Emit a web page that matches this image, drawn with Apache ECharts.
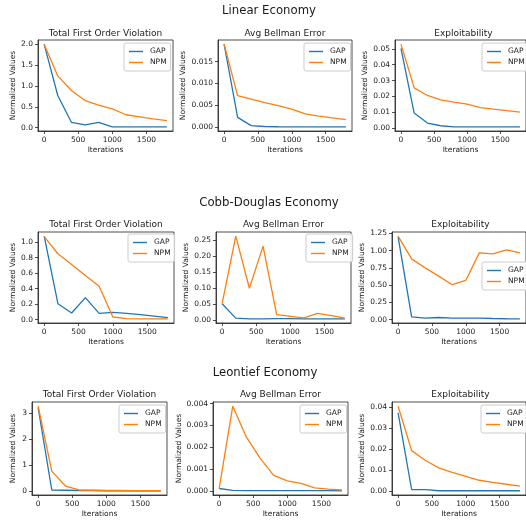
<!DOCTYPE html>
<html>
<head>
<meta charset="utf-8">
<script src="https://cdn.jsdelivr.net/npm/echarts@6/dist/echarts.min.js"></script>
<style>
  html, body { margin: 0; padding: 0; background: #fff; }
  #main { width: 526px; height: 520px; }
</style>
</head>
<body>
<div id="main"></div>
<script>
// iterations on the x axis
var iterations = [0, 200, 400, 600, 800, 1000, 1200, 1400, 1600, 1800];
var xTickLabels = ['0', '500', '1000', '1500'];

// Linear economy
var linTfovGap = [2.0, 0.77, 0.13, 0.065, 0.13, 0.02, 0.02, 0.02, 0.02, 0.02];
var linTfovNpm = [2.0, 1.24, 0.89, 0.65, 0.54, 0.45, 0.31, 0.26, 0.21, 0.17];
var linBellGap = [0.0190, 0.0022, 0.0003, 0.0001, 0.00005, 0.00003, 0.00002, 0.00002, 0.00002, 0.00002];
var linBellNpm = [0.0190, 0.0072, 0.0064, 0.0056, 0.0049, 0.0041, 0.0030, 0.0025, 0.0021, 0.0017];
var linExplGap = [0.0504, 0.0095, 0.0032, 0.0015, 0.0008, 0.0008, 0.0008, 0.0008, 0.0008, 0.0008];
var linExplNpm = [0.0530, 0.0254, 0.0206, 0.0178, 0.0164, 0.0151, 0.0130, 0.0120, 0.0111, 0.0101];

// Cobb-Douglas economy
var cdTfovGap = [1.077, 0.206, 0.085, 0.284, 0.08, 0.095, 0.08, 0.065, 0.045, 0.025];
var cdTfovNpm = [1.07, 0.85, 0.71, 0.57, 0.43, 0.034, 0.012, 0.01, 0.01, 0.01];
var cdBellGap = [0.052, 0.0074, 0.005, 0.005, 0.006, 0.006, 0.005, 0.005, 0.005, 0.005];
var cdBellNpm = [0.052, 0.262, 0.100, 0.231, 0.018, 0.013, 0.008, 0.022, 0.015, 0.007];
var cdExplGap = [1.20, 0.038, 0.02, 0.03, 0.02, 0.02, 0.02, 0.015, 0.012, 0.01];
var cdExplNpm = [1.21, 0.88, 0.75, 0.63, 0.505, 0.567, 0.967, 0.952, 1.01, 0.967];

// Leontief economy
var leTfovGap = [3.2, 0.05, 0.04, 0.03, 0.03, 0.02, 0.02, 0.02, 0.02, 0.02];
var leTfovNpm = [3.25, 0.77, 0.2, 0.05, 0.04, 0.03, 0.03, 0.02, 0.02, 0.02];
var leBellGap = [0.00011, 0.00002, 0.00001, 0.00001, 0.00001, 0.00001, 0.00001, 0.00001, 0.00001, 0.000005];
var leBellNpm = [0.0001, 0.00388, 0.00246, 0.0015, 0.00071, 0.00046, 0.00034, 0.00014, 0.00008, 0.00004];
var leExplGap = [0.0371, 0.0007, 0.0006, 0.0001, 0.0001, 0.0001, 0.0001, 0.0001, 0.0001, 0.0001];
var leExplNpm = [0.0403, 0.0192, 0.0146, 0.0110, 0.0089, 0.0070, 0.0051, 0.0041, 0.0032, 0.0023];

// y tick labels
var linTfovTicks = ['0.0', '0.5', '1.0', '1.5', '2.0'];
var linBellTicks = ['0.000', '0.005', '0.010', '0.015'];
var linExplTicks = ['0.00', '0.01', '0.02', '0.03', '0.04', '0.05'];
var cdTfovTicks = ['0.0', '0.2', '0.4', '0.6', '0.8', '1.0'];
var cdBellTicks = ['0.00', '0.05', '0.10', '0.15', '0.20', '0.25'];
var cdExplTicks = ['0.00', '0.25', '0.50', '0.75', '1.00', '1.25'];
var leTfovTicks = ['0', '1', '2', '3'];
var leBellTicks = ['0.000', '0.001', '0.002', '0.003', '0.004'];
var leExplTicks = ['0.00', '0.01', '0.02', '0.03', '0.04'];

var rowTitles = ['Linear Economy', 'Cobb-Douglas Economy', 'Leontief Economy'];
var colTitles = ['Total First Order Violation', 'Avg Bellman Error', 'Exploitability'];

var panels = [
  { gap: linTfovGap, npm: linTfovNpm, ticks: linTfovTicks, left: 38, top: 40, w: 135, h: 91, lgL: 124, lgT: 43, nameGap: 21 },
  { gap: linBellGap, npm: linBellNpm, ticks: linBellTicks, left: 218, top: 40, w: 134, h: 91, lgL: 304, lgT: 43, nameGap: 31 },
  { gap: linExplGap, npm: linExplNpm, ticks: linExplTicks, left: 395, top: 40, w: 137, h: 91, lgL: 482, lgT: 43, nameGap: 25 },
  { gap: cdTfovGap, npm: cdTfovNpm, ticks: cdTfovTicks, left: 38, top: 232, w: 136, h: 91, lgL: 128, lgT: 234, nameGap: 20 },
  { gap: cdBellGap, npm: cdBellNpm, ticks: cdBellTicks, left: 216, top: 232, w: 135, h: 91, lgL: 306, lgT: 234, nameGap: 26 },
  { gap: cdExplGap, npm: cdExplNpm, ticks: cdExplTicks, left: 392, top: 232, w: 137, h: 91, lgL: 482, lgT: 262, nameGap: 25 },
  { gap: leTfovGap, npm: leTfovNpm, ticks: leTfovTicks, left: 32, top: 402, w: 135, h: 93, lgL: 119, lgT: 405, nameGap: 15 },
  { gap: leBellGap, npm: leBellNpm, ticks: leBellTicks, left: 213, top: 402, w: 135, h: 93, lgL: 300, lgT: 405, nameGap: 30 },
  { gap: leExplGap, npm: leExplNpm, ticks: leExplTicks, left: 392, top: 402, w: 137, h: 93, lgL: 481, lgT: 405, nameGap: 25 }
];
var rowTitleY = [10, 202, 372];
var rowTitleX = [269, 269, 265];
var colTitleY = [33, 224, 394];

var FONT = 'DejaVu Sans';
var TXT = '#1a1a1a';

function pairs(ys) {
  var out = [];
  for (var i = 0; i < iterations.length; i++) out.push([iterations[i], ys[i]]);
  return out;
}

var titles = [], grids = [], xAxes = [], yAxes = [], series = [], legends = [];

for (var r = 0; r < 3; r++) {
  titles.push({
    text: rowTitles[r], left: rowTitleX[r], top: rowTitleY[r] - 5, textAlign: 'center', padding: 0,
    textStyle: { fontFamily: FONT, fontSize: 11.7, fontWeight: 'normal', color: TXT }
  });
}

panels.forEach(function (p, i) {
  var row = Math.floor(i / 3), col = i % 3;
  titles.push({
    text: colTitles[col], left: p.left + p.w / 2, top: colTitleY[row] - 4, textAlign: 'center', padding: 0,
    textStyle: { fontFamily: FONT, fontSize: 9, fontWeight: 'normal', color: TXT }
  });
  grids.push({
    left: p.left, top: p.top, width: p.w, height: p.h,
    show: true, borderColor: '#222', borderWidth: 0.8, backgroundColor: 'transparent'
  });

  var all = p.gap.concat(p.npm);
  var lo = Math.min.apply(null, all), hi = Math.max.apply(null, all);
  var pad = (hi - lo) * 0.05;
  var tickVals = p.ticks.map(Number);
  var tickLabs = p.ticks;

  xAxes.push({
    type: 'value', gridIndex: i, min: -90, max: 1890,
    name: 'Iterations', nameLocation: 'middle', nameGap: 15,
    nameTextStyle: { fontFamily: FONT, fontSize: 7.5, color: TXT },
    axisLine: { show: true, onZero: false, lineStyle: { color: '#222', width: 0.8 } },
    axisTick: { show: true, length: 3, customValues: [0, 500, 1000, 1500], lineStyle: { color: '#222', width: 0.8 } },
    axisLabel: {
      customValues: [0, 500, 1000, 1500], margin: 5,
      fontFamily: FONT, fontSize: 7.5, color: TXT,
      formatter: function (v) { return xTickLabels[[0, 500, 1000, 1500].indexOf(v)]; }
    },
    splitLine: { show: false }
  });
  yAxes.push({
    type: 'value', gridIndex: i, min: lo - pad, max: hi + pad,
    name: 'Normalized Values', nameLocation: 'middle', nameGap: p.nameGap, nameRotate: 90,
    nameTextStyle: { fontFamily: FONT, fontSize: 7.5, color: TXT },
    axisLine: { show: true, onZero: false, lineStyle: { color: '#222', width: 0.8 } },
    axisTick: { show: true, length: 3, customValues: tickVals, lineStyle: { color: '#222', width: 0.8 } },
    axisLabel: {
      customValues: tickVals, margin: 5,
      fontFamily: FONT, fontSize: 7.5, color: TXT,
      formatter: function (v) {
        var best = 0;
        for (var k = 0; k < tickVals.length; k++) {
          if (Math.abs(tickVals[k] - v) < Math.abs(tickVals[best] - v)) best = k;
        }
        return tickLabs[best];
      }
    },
    splitLine: { show: false }
  });
  series.push({
    name: 'GAP', type: 'line', xAxisIndex: i, yAxisIndex: i, data: pairs(p.gap),
    showSymbol: false, symbol: 'none', lineStyle: { color: '#1f77b4', width: 1.3 }, itemStyle: { color: '#1f77b4' },
    animation: false
  });
  series.push({
    name: 'NPM', type: 'line', xAxisIndex: i, yAxisIndex: i, data: pairs(p.npm),
    showSymbol: false, symbol: 'none', lineStyle: { color: '#ff7f0e', width: 1.3 }, itemStyle: { color: '#ff7f0e' },
    animation: false
  });
  legends.push({
    data: ['GAP', 'NPM'], orient: 'vertical', left: p.lgL, top: p.lgT,
    icon: 'rect', itemWidth: 14, itemHeight: 1.4, itemGap: 2,
    padding: [4, 4, 4, 5], borderColor: '#ccc', borderWidth: 1, borderRadius: 2,
    backgroundColor: 'rgba(255,255,255,0.85)',
    textStyle: { fontFamily: FONT, fontSize: 7.5, color: TXT, lineHeight: 9, padding: [0, 0, 0, 2] },
    selectedMode: false
  });
});

var myChart = echarts.init(document.getElementById('main'), null, { renderer: 'canvas' });
myChart.setOption({
  animation: false,
  backgroundColor: '#fff',
  title: titles,
  grid: grids,
  xAxis: xAxes,
  yAxis: yAxes,
  legend: legends,
  series: series
});
</script>
</body>
</html>
